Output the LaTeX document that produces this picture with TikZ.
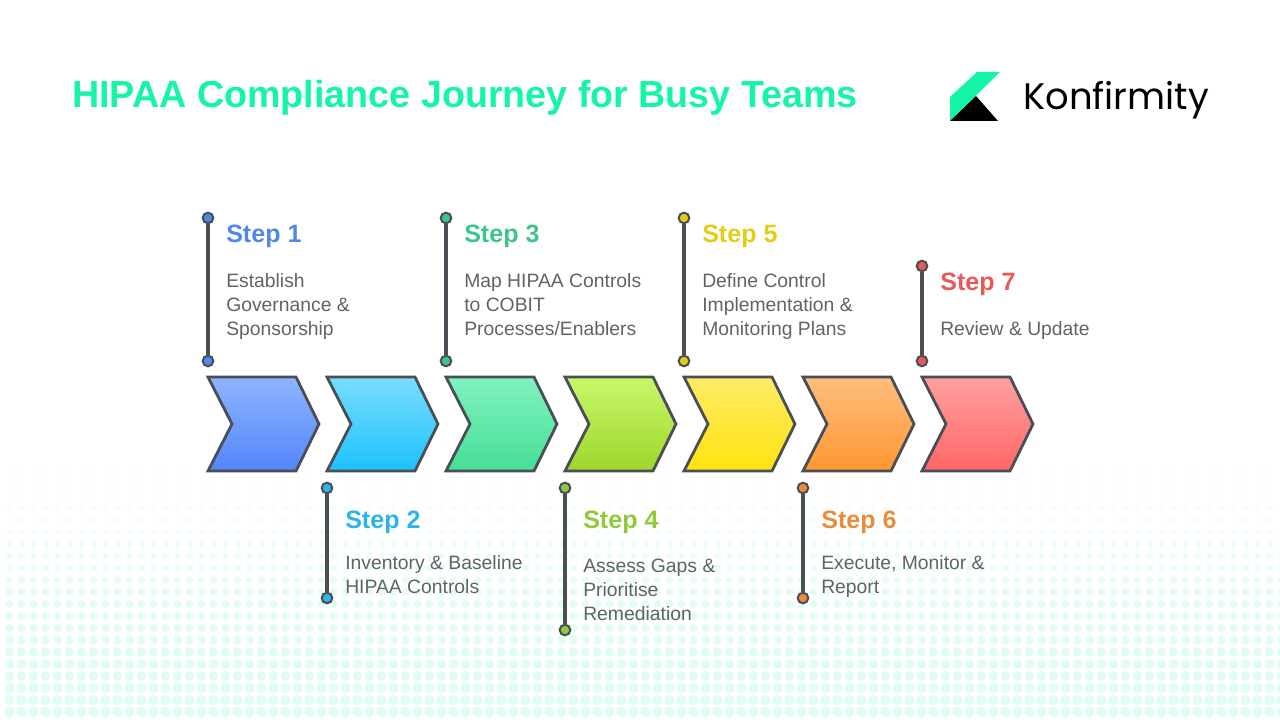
\documentclass[tikz,border=0pt]{standalone}
\usepackage{fontspec}
\setmainfont{Liberation Sans}
\newfontfamily\logofont{Poppins}
\definecolor{titlegreen}{HTML}{14F5A5}
\definecolor{linegray}{HTML}{4A4F55}
\definecolor{bodygray}{HTML}{5F6368}
\definecolor{dotgreen}{HTML}{E0FDF4}
\definecolor{stepa}{HTML}{5287E8}
\definecolor{stepb}{HTML}{2BB5E8}
\definecolor{stepc}{HTML}{3CC588}
\definecolor{stepd}{HTML}{93C83C}
\definecolor{stepe}{HTML}{E6CC14}
\definecolor{stepf}{HTML}{EB8C3C}
\definecolor{stepg}{HTML}{E85A5A}
\tikzset{
  steptitle/.style={anchor=west, inner sep=0pt, font=\fontsize{18.8}{19}\selectfont\bfseries},
  stepbody/.style={anchor=north west, inner sep=0pt, align=left, text=bodygray, font=\fontsize{14.5}{17.9}\selectfont},
  pin/.style={circle, draw=linegray, line width=1.5pt, minimum size=8pt, inner sep=0pt},
  pinline/.style={draw=linegray, line width=2.4pt},
  chevron/.style={draw=linegray, line width=2.1pt, line join=miter}
}
\begin{document}
\begin{tikzpicture}[x=0.75pt, y=-0.75pt]
        \useasboundingbox (0, 0) rectangle (1280, 720);

        % dotted background
        \foreach \row in {0,...,23} {
            \pgfmathsetmacro{\rowy}{436 + 12*\row}
            \pgfmathsetmacro{\rowr}{1.5 + 4.0*(\row/23)}
            \pgfmathsetmacro{\rowmix}{min(100, 8 + 92*(min(\row/14, 1))^1.6)}
            \foreach \col in {0,...,106} {
                \fill[dotgreen!\rowmix!white] (9.5 + 12*\col, \rowy) circle[radius=\rowr];
            }
        }

        % heading and logo
        \node[anchor=west, inner sep=0pt, text=titlegreen, font=\fontsize{28.25}{29}\selectfont\bfseries] (heading) at (72, 98) {HIPAA Compliance Journey for Busy Teams};
        \fill[titlegreen] (950, 106) -- (950, 97) -- (977, 72) -- (1000, 72) -- (950, 121) -- cycle;
        \fill[black] (950, 121) -- (976, 96) -- (998, 121) -- cycle;
        \node[anchor=west, inner sep=0pt, font=\logofont\fontsize{27.7}{28}\selectfont] (logo) at (1023, 100) {Konfirmity};

        % chevrons
        \foreach \i/\topcol/\botcol in {
            0/8FB4FF/5286FA,
            1/7ADDFF/1CC2FC,
            2/80F2C0/46DE96,
            3/C8F86A/9FD62C,
            4/FFEB66/FFE30F,
            5/FFBE7D/FF9633,
            6/FFA0A0/FF6666} {
            \definecolor{chevtop}{HTML}{\topcol}
            \definecolor{chevbot}{HTML}{\botcol}
            \draw[chevron, top color=chevtop, bottom color=chevbot]
                (208 + 119*\i, 377) -- (296 + 119*\i, 377) -- (319 + 119*\i, 424)
                -- (296 + 119*\i, 471) -- (208 + 119*\i, 471) -- (232 + 119*\i, 424) -- cycle;
        }

        % pins above
        \node[pin, fill=stepa] (topa) at (208, 218) {};
        \node[pin, fill=stepa] (bota) at (208, 361) {};
        \draw[pinline] (topa) -- (bota);
        \node[pin, fill=stepc] (topc) at (446, 218) {};
        \node[pin, fill=stepc] (botc) at (446, 361) {};
        \draw[pinline] (topc) -- (botc);
        \node[pin, fill=stepe] (tope) at (684, 218) {};
        \node[pin, fill=stepe] (bote) at (684, 361) {};
        \draw[pinline] (tope) -- (bote);
        \node[pin, fill=stepg] (topg) at (922, 266) {};
        \node[pin, fill=stepg] (botg) at (922, 361) {};
        \draw[pinline] (topg) -- (botg);

        % pins below
        \node[pin, fill=stepb] (topb) at (327, 488) {};
        \node[pin, fill=stepb] (botb) at (327, 598) {};
        \draw[pinline] (topb) -- (botb);
        \node[pin, fill=stepd] (topd) at (565, 488) {};
        \node[pin, fill=stepd] (botd) at (565, 630) {};
        \draw[pinline] (topd) -- (botd);
        \node[pin, fill=stepf] (topf) at (803, 488) {};
        \node[pin, fill=stepf] (botf) at (803, 598) {};
        \draw[pinline] (topf) -- (botf);

        % labels
        \node[steptitle, text=stepa] (titlea) at (226, 236) {Step 1};
        \node[stepbody] (bodya) at (226, 273) {Establish\\Governance \&\\Sponsorship};
        \node[steptitle, text=stepb] (titleb) at (345, 522) {Step 2};
        \node[stepbody] (bodyb) at (345, 555) {Inventory \& Baseline\\HIPAA Controls};
        \node[steptitle, text=stepc] (titlec) at (464, 236) {Step 3};
        \node[stepbody] (bodyc) at (464, 273) {Map HIPAA Controls\\to COBIT\\Processes/Enablers};
        \node[steptitle, text=stepd] (titled) at (583, 522) {Step 4};
        \node[stepbody] (bodyd) at (583, 559) {Assess Gaps \&\\Prioritise\\Remediation};
        \node[steptitle, text=stepe] (titlee) at (702, 236) {Step 5};
        \node[stepbody] (bodye) at (702, 273) {Define Control\\Implementation \&\\Monitoring Plans};
        \node[steptitle, text=stepf] (titlef) at (821, 522) {Step 6};
        \node[stepbody] (bodyf) at (821, 555) {Execute, Monitor \&\\Report};
        \node[steptitle, text=stepg] (titleg) at (940, 284) {Step 7};
        \node[stepbody] (bodyg) at (940, 321) {Review \& Update};

\end{tikzpicture}
\end{document}
